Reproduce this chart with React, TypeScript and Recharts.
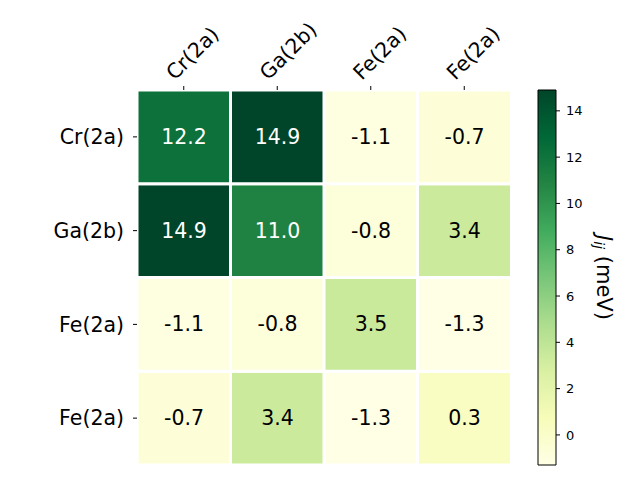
import React from 'react';
import {
  BarChart,
  Bar,
  XAxis,
  YAxis,
  Cell,
  LabelList,
} from 'recharts';

// site labels (rows top->bottom, columns left->right)
const sites = ['Cr(2a)', 'Ga(2b)', 'Fe(2a)', 'Fe(2a)'];

// exchange couplings J_ij in meV, one array per row
const jCr = [12.2, 14.9, -1.1, -0.7];
const jGa = [14.9, 11.0, -0.8, 3.4];
const jFeA = [-1.1, -0.8, 3.5, -1.3];
const jFeB = [-0.7, 3.4, -1.3, 0.3];
const matrix = [jCr, jGa, jFeA, jFeB];

const vmin = -1.3;
const vmax = 14.9;
const cbTicks = [0, 2, 4, 6, 8, 10, 12, 14];

// YlGn
const ylgn = ['#ffffe5', '#f7fcb9', '#d9f0a3', '#addd8e', '#78c679', '#41ab5d', '#238443', '#006837', '#004529'];

function hex(c: string) {
  return [1, 3, 5].map((i) => parseInt(c.slice(i, i + 2), 16));
}

function colorOf(v: number) {
  const t = Math.min(1, Math.max(0, (v - vmin) / (vmax - vmin)));
  const p = t * (ylgn.length - 1);
  const i = Math.min(ylgn.length - 2, Math.floor(p));
  const f = p - i;
  const a = hex(ylgn[i]);
  const b = hex(ylgn[i + 1]);
  const m = a.map((x, k) => Math.round(x + (b[k] - x) * f));
  return `rgb(${m[0]},${m[1]},${m[2]})`;
}

// one stacked bar per column, each segment = one row (bottom row first)
const data = sites.map((s, c) => {
  const d: any = { key: c, name: s };
  matrix.forEach((row, r) => {
    d[`s${r}`] = 1;
    d[`v${r}`] = row[c];
  });
  return d;
});
const stackRows = [3, 2, 1, 0];

const TopTick = (props: any) => {
  const { x, y, payload } = props;
  const ax = x - 9;
  const ay = y - 3;
  return (
    <text
      x={ax}
      y={ay}
      transform={`rotate(-45 ${ax} ${ay})`}
      textAnchor="start"
      fontSize={20.5}
      fill="#000"
    >
      {sites[payload.value]}
    </text>
  );
};

const cellLabel = (props: any) => {
  const { x, y, width, height, value } = props;
  const t = (value - vmin) / (vmax - vmin);
  return (
    <text
      x={x + width / 2}
      y={y + height / 2}
      textAnchor="middle"
      dominantBaseline="central"
      fontSize={20.5}
      fill={t > 0.55 ? '#fff' : '#000'}
    >
      {value.toFixed(1)}
    </text>
  );
};

const CbLabel = (props: any) => {
  const { viewBox } = props;
  const cx = viewBox.x + 48;
  const cy = viewBox.y + viewBox.height / 2;
  return (
    <text
      x={cx}
      y={cy}
      transform={`rotate(90 ${cx} ${cy})`}
      textAnchor="middle"
      dominantBaseline="central"
      fontSize={21}
      fill="#000"
    >
      <tspan fontStyle="italic">J</tspan>
      <tspan fontStyle="italic" fontSize={14} dy={5}>ij</tspan>
      <tspan dy={-5}> (meV)</tspan>
    </text>
  );
};

export default function App() {
  return (
    <div
      style={{
        position: 'absolute',
        left: 0,
        top: 0,
        width: 640,
        height: 480,
        background: '#fff',
        fontFamily: 'DejaVu Sans, sans-serif',
      }}
    >
      <div style={{ position: 'absolute', left: 0, top: 0 }}>
        <BarChart
          width={640}
          height={480}
          data={data}
          margin={{ top: 0, right: 129, bottom: 15, left: 0 }}
          barCategoryGap={0}
        >
          <XAxis
            dataKey="key"
            orientation="top"
            height={90}
            axisLine={false}
            tickSize={4}
            tickLine={{ stroke: '#000' }}
            tick={<TopTick />}
            interval={0}
          />
          <YAxis
            type="number"
            domain={[0, 4]}
            ticks={[0.5, 1.5, 2.5, 3.5]}
            tickFormatter={(v: number) => sites[3 - Math.floor(v)]}
            width={137}
            axisLine={false}
            tickSize={4}
            tickMargin={9}
            tickLine={{ stroke: '#000' }}
            tick={{ fill: '#000', fontSize: 20.5 }}
          />
          {stackRows.map((r) => (
            <Bar
              key={r}
              dataKey={`s${r}`}
              stackId="m"
              stroke="#fff"
              strokeWidth={3}
              isAnimationActive={false}
            >
              {data.map((d, c) => (
                <Cell key={c} fill={colorOf(matrix[r][c])} />
              ))}
              <LabelList dataKey={`v${r}`} content={cellLabel} />
            </Bar>
          ))}
        </BarChart>
      </div>
      <div style={{ position: 'absolute', left: 530, top: 0 }}>
        <BarChart
          width={110}
          height={480}
          data={[{ name: 'cb', range: [vmin, vmax] }]}
          margin={{ top: 90, right: 0, bottom: 15, left: 8 }}
          barCategoryGap={0}
        >
          <defs>
            <linearGradient id="cbGrad" x1="0" y1="1" x2="0" y2="0">
              {ylgn.map((c, i) => (
                <stop key={i} offset={i / (ylgn.length - 1)} stopColor={c} />
              ))}
            </linearGradient>
          </defs>
          <XAxis dataKey="name" hide />
          <YAxis
            type="number"
            orientation="right"
            domain={[vmin, vmax]}
            ticks={cbTicks}
            width={84}
            axisLine={false}
            tickSize={4}
            tickMargin={6}
            tickLine={{ stroke: '#000' }}
            tick={{ fill: '#000', fontSize: 13 }}
            label={<CbLabel />}
          />
          <Bar
            dataKey="range"
            fill="url(#cbGrad)"
            stroke="#000"
            strokeWidth={1}
            isAnimationActive={false}
          />
        </BarChart>
      </div>
    </div>
  );
}
